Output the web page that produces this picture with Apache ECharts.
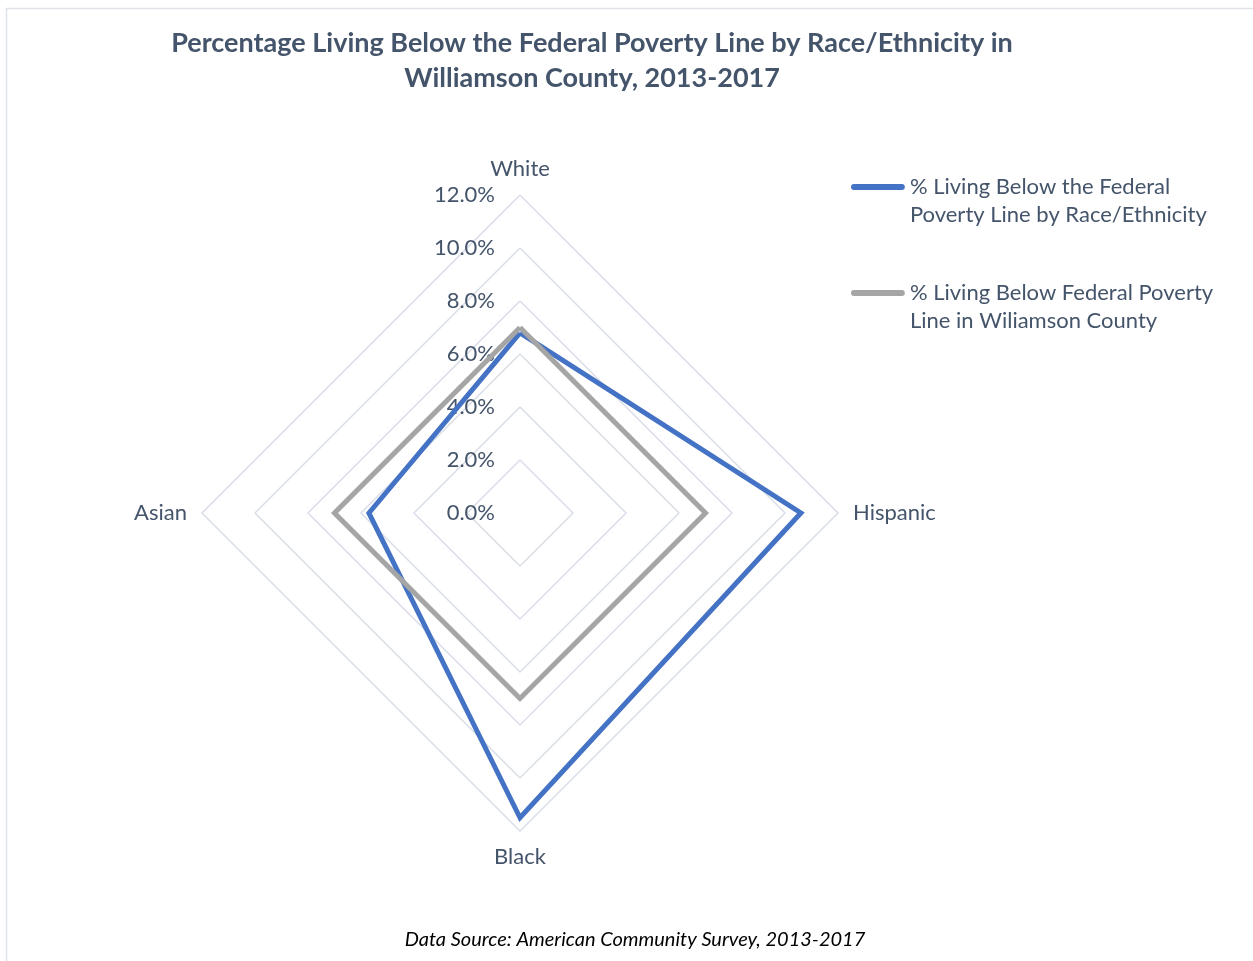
<!DOCTYPE html>
<html>
<head>
<meta charset="utf-8">
<script src="https://cdn.jsdelivr.net/npm/echarts@6/dist/echarts.min.js"></script>
<style>html,body{margin:0;padding:0;background:#fff}#c{width:1253px;height:961px}</style>
</head>
<body>
<div id="c"></div>
<script>
// Categories in drawing order (ECharts places indicators counter-clockwise from the top)
var categories = ['White', 'Asian', 'Black', 'Hispanic'];
var raceValues = [6.8, 5.7, 11.5, 10.6];      // % below poverty line by race/ethnicity
var countyValues = [7.0, 7.0, 7.0, 7.0];      // % below poverty line, Williamson County
var axisMax = 12;
var seriesNames = ['% Living Below the Federal Poverty Line by Race/Ethnicity', '% Living Below Federal Poverty Line in Wiliamson County'];
var legendLabels = ['% Living Below the Federal\nPoverty Line by Race/Ethnicity', '% Living Below Federal Poverty\nLine in Wiliamson County'];
var titleText = 'Percentage Living Below the Federal Poverty Line by Race/Ethnicity in\nWilliamson County, 2013-2017';
var sourceText = 'Data Source: American Community Survey, 2013-2017';

var FONT = 'Lato';
var TXT = '#44546a';
var chart = echarts.init(document.getElementById('c'), null, {renderer: 'canvas'});
var icon = 'path://M3,0 h48 a3,3 0 0 1 0,6 h-48 a3,3 0 0 1 0,-6 z M0,34 h0.1 v0.1 h-0.1 z';

chart.setOption({
  backgroundColor: '#fff',
  animation: false,
  title: [{
    text: titleText,
    left: 592, top: 26, textAlign: 'center', padding: 0,
    textStyle: {fontFamily: FONT, fontWeight: 'bold', fontSize: 27, color: TXT, lineHeight: 35}
  }, {
    text: sourceText,
    left: 635, top: 930, textAlign: 'center', padding: 0,
    textStyle: {fontFamily: FONT, fontStyle: 'italic', fontWeight: 'normal', fontSize: 20, color: '#000'}
  }],
  graphic: [{
    type: 'rect', silent: true, z: -10,
    shape: {x: 6.5, y: 8.5, width: 1400, height: 1100},
    style: {fill: 'none', stroke: '#dfe3e8', lineWidth: 1.5}
  }],
  legend: {
    orient: 'vertical', left: 851, top: 173, padding: 0, itemGap: 50,
    itemWidth: 54, itemHeight: 34, icon: icon,
    itemStyle: {borderWidth: 0},
    data: seriesNames,
    formatter: function (n) { return legendLabels[seriesNames.indexOf(n)]; },
    textStyle: {fontFamily: FONT, fontSize: 22, color: TXT, lineHeight: 28}
  },
  radar: {
    center: [520, 513], radius: 318, shape: 'polygon', splitNumber: 6,
    startAngle: 90,
    indicator: categories.map(function (c, i) {
      var ind = {name: c, min: 0, max: axisMax};
      if (i === 0) {
        ind.axisLabel = {show: true, margin: 25, showMinLabel: true, showMaxLabel: true,
          fontFamily: FONT, fontSize: 22, color: TXT,
          formatter: function (v) { return Number(v).toFixed(1) + '%'; }};
      }
      return ind;
    }),
    axisName: {fontFamily: FONT, fontSize: 22, color: TXT},
    nameGap: 15,
    axisLine: {show: false},
    axisTick: {show: false},
    axisLabel: {show: false},
    splitLine: {lineStyle: {color: '#d9dee8', width: 1.5}},
    splitArea: {show: false}
  },
  series: [{
    type: 'radar', symbol: 'none',
    data: [{
      name: seriesNames[0], value: raceValues,
      lineStyle: {color: '#4472c4', width: 5, join: 'miter'},
      itemStyle: {color: '#4472c4'}
    }, {
      name: seriesNames[1], value: countyValues,
      lineStyle: {color: '#a5a5a5', width: 5, join: 'miter'},
      itemStyle: {color: '#a5a5a5'}
    }],
    z: 2
  }]
});
</script>
</body>
</html>
